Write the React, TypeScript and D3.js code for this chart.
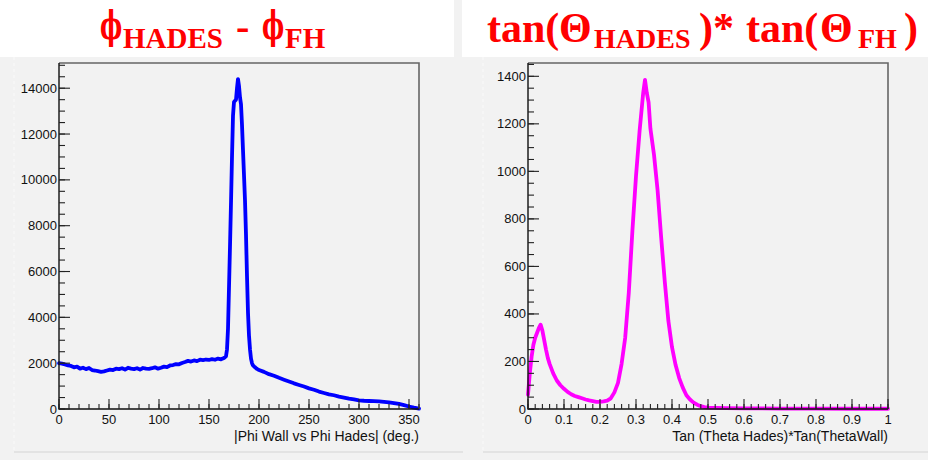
import React from "react";
import * as d3 from "d3";

// ---------- data ----------
const phiDeg = [
  0, 3, 6, 9, 12, 15, 18, 21, 24, 27, 30, 33, 36, 39, 42, 45, 48, 51, 54, 57, 60, 63, 66, 69, 72, 75, 78, 81, 84, 87, 90,
  93, 96, 99, 102, 105, 108, 111, 114, 117, 120, 123, 126, 129, 132, 135, 138, 141, 144, 147, 150, 153, 156, 159, 162,
  165, 167, 168, 169, 170, 171, 172, 173, 174, 175, 176, 177, 178, 179, 180, 181, 182, 183, 184, 185, 186, 187, 188, 189,
  190, 191, 192, 193, 194, 196, 198, 200, 205, 210, 215, 220, 225, 230, 235, 240, 245, 250, 255, 260, 265, 270, 275, 280,
  285, 290, 295, 300, 305, 310, 315, 320, 325, 330, 335, 340, 345, 350, 355, 360,
];
const phiCounts = [
  2000, 1980, 1940, 1900, 1880, 1820, 1850, 1760, 1800, 1740, 1790, 1700, 1680, 1650, 1620, 1640, 1680, 1720, 1700, 1760,
  1740, 1780, 1720, 1800, 1760, 1740, 1780, 1720, 1790, 1760, 1750, 1780, 1820, 1760, 1800, 1850, 1830, 1900, 1920, 1960,
  1950, 2010, 2050, 2100, 2070, 2120, 2090, 2150, 2130, 2160, 2140, 2180, 2150, 2200, 2170, 2230, 2300, 2600, 3500, 5300,
  7100, 9000, 11000, 12800, 13400, 13450, 13500, 14000, 14400, 14100, 13600, 13300, 12400, 11300, 10200, 9100, 7600, 5800,
  4200, 3200, 2600, 2200, 2000, 1900, 1820, 1750, 1700, 1620, 1520, 1450, 1360, 1280, 1200, 1120, 1050, 980, 900, 840, 760,
  700, 640, 600, 540, 500, 450, 420, 380, 360, 350, 340, 330, 310, 290, 260, 220, 170, 110, 60, 20,
];

const tanVal = [
  0, 0.005, 0.01, 0.015, 0.02, 0.025, 0.03, 0.035, 0.04, 0.045, 0.05, 0.055, 0.06, 0.065, 0.07, 0.08, 0.09, 0.1, 0.11, 0.12,
  0.13, 0.14, 0.15, 0.16, 0.17, 0.18, 0.19, 0.2, 0.21, 0.22, 0.23, 0.24, 0.25, 0.26, 0.27, 0.28, 0.29, 0.3, 0.31, 0.32, 0.325,
  0.33, 0.335, 0.34, 0.35, 0.36, 0.37, 0.38, 0.39, 0.4, 0.41, 0.42, 0.43, 0.44, 0.45, 0.46, 0.47, 0.48, 0.49, 0.5, 0.55, 0.6,
  0.7, 0.8, 0.9, 1.0,
];
const tanCounts = [
  60, 150, 220, 270, 300, 320, 340, 355, 330, 290, 250, 215, 190, 170, 150, 120, 100, 85, 72, 62, 55, 50, 45, 40, 36, 33, 30,
  30, 32, 35, 45, 70, 110, 190, 300, 490, 750, 980, 1170, 1330, 1385, 1330, 1290, 1180, 1070, 920, 720, 535, 370, 260, 185,
  130, 90, 58, 40, 27, 18, 12, 8, 6, 4, 3, 2, 2, 1, 1,
];

const phiXTicks = [0, 50, 100, 150, 200, 250, 300, 350];
const phiYTicks = [0, 2000, 4000, 6000, 8000, 10000, 12000, 14000];
const tanXTicks = [0, 0.1, 0.2, 0.3, 0.4, 0.5, 0.6, 0.7, 0.8, 0.9, 1];
const tanXLabels = ["0", "0.1", "0.2", "0.3", "0.4", "0.5", "0.6", "0.7", "0.8", "0.9", "1"];
const tanYTicks = [0, 200, 400, 600, 800, 1000, 1200, 1400];

const phiAxisTitle = "|Phi Wall vs Phi Hades| (deg.)";
const tanAxisTitle = "Tan (Theta Hades)*Tan(ThetaWall)";

const TOP = 63;
const BOTTOM = 409;
const SANS = "'Liberation Sans', Arial, Helvetica, sans-serif";
const SERIF = "'Liberation Serif', 'Times New Roman', serif";
const PHI_FONT = "'DejaVu Serif', 'Liberation Serif', serif";

type PanelProps = {
  left: number;
  right: number;
  xDomain: [number, number];
  yDomain: [number, number];
  xs: number[];
  ys: number[];
  color: string;
  xTicks: number[];
  xLabels: string[];
  xMinorStep: number;
  yTicks: number[];
  yMinorStep: number;
  title: string;
};

function Panel(p: PanelProps) {
  const x = d3.scaleLinear().domain(p.xDomain).range([p.left, p.right]);
  const y = d3.scaleLinear().domain(p.yDomain).range([BOTTOM, TOP]);
  const line = d3
    .line<number>()
    .x((_, i) => x(p.xs[i]))
    .y((d) => y(d));
  const xMinor = d3.range(p.xDomain[0], p.xDomain[1] + 1e-9, p.xMinorStep);
  const yMinor = d3.range(p.yDomain[0], p.yDomain[1], p.yMinorStep);
  return (
    <g>
      <rect x={p.left} y={TOP} width={p.right - p.left} height={BOTTOM - TOP} fill="#f2f2f2" />
      <path d={line(p.ys) || ""} fill="none" stroke={p.color} strokeWidth={3.8} strokeLinejoin="round" strokeLinecap="round" />
      <path d={`M${p.left},${TOP}H${p.right}V${BOTTOM}`} fill="none" stroke="#666" strokeWidth={1.6} />
      <path d={`M${p.left},${TOP}V${BOTTOM}H${p.right}`} fill="none" stroke="#111" strokeWidth={1.4} />
      {yMinor.map((v) => (
        <line key={"ym" + v} x1={p.left} x2={p.left + 6} y1={y(v)} y2={y(v)} stroke="#222" strokeWidth={1.1} />
      ))}
      {p.yTicks.map((v) => (
        <g key={"y" + v}>
          <line x1={p.left} x2={p.left + 11} y1={y(v)} y2={y(v)} stroke="#222" strokeWidth={1.1} />
          <text x={p.left - 2} y={y(v) + 4.5} textAnchor="end" fontFamily={SANS} fontSize={13} fill="#111">
            {String(v)}
          </text>
        </g>
      ))}
      {xMinor.map((v, i) => (
        <line key={"xm" + i} x1={x(v)} x2={x(v)} y1={BOTTOM} y2={BOTTOM - 5} stroke="#222" strokeWidth={1.1} />
      ))}
      {p.xTicks.map((v, i) => (
        <g key={"x" + i}>
          <line x1={x(v)} x2={x(v)} y1={BOTTOM} y2={BOTTOM - 10} stroke="#222" strokeWidth={1.1} />
          <text x={x(v)} y={BOTTOM + 15} textAnchor="middle" fontFamily={SANS} fontSize={13} fill="#111">
            {p.xLabels[i]}
          </text>
        </g>
      ))}
      <text x={p.right} y={441} textAnchor="end" fontFamily={SANS} fontSize={14} fill="#111">
        {p.title}
      </text>
    </g>
  );
}

export default function App() {
  return (
    <svg
      width={928}
      height={460}
      style={{ position: "absolute", left: 0, top: 0, display: "block" }}
      xmlns="http://www.w3.org/2000/svg"
    >
      <rect x={0} y={0} width={928} height={460} fill="#f2f2f2" />
      <rect x={0} y={0} width={454} height={57} fill="#ffffff" />
      <rect x={462} y={0} width={466} height={57} fill="#ffffff" />
      <line x1={14} x2={463} y1={452} y2={452} stroke="#d4d4d4" strokeWidth={1.2} />
      <line x1={483} x2={928} y1={452} y2={452} stroke="#d4d4d4" strokeWidth={1.2} />
      <line x1={483} x2={483} y1={57} y2={452} stroke="#fafafa" strokeWidth={1} strokeDasharray="3 3" />
      <line x1={14} x2={14} y1={57} y2={452} stroke="#fafafa" strokeWidth={1} strokeDasharray="3 3" />

      <Panel
        left={59}
        right={419}
        xDomain={[0, 360]}
        yDomain={[0, 15100]}
        xs={phiDeg}
        ys={phiCounts}
        color="#0000ff"
        xTicks={phiXTicks}
        xLabels={phiXTicks.map(String)}
        xMinorStep={10}
        yTicks={phiYTicks}
        yMinorStep={500}
        title={phiAxisTitle}
      />
      <Panel
        left={528}
        right={888}
        xDomain={[0, 1]}
        yDomain={[0, 1456]}
        xs={tanVal}
        ys={tanCounts}
        color="#ff00ff"
        xTicks={tanXTicks}
        xLabels={tanXLabels}
        xMinorStep={0.02}
        yTicks={tanYTicks}
        yMinorStep={50}
        title={tanAxisTitle}
      />

      {/* titles */}
      <g fill="#ff0000" fontFamily={SERIF} fontWeight="bold">
        <text transform="translate(100,39) scale(0.62,1.05)" fontSize={38} fontFamily={PHI_FONT}>ϕ</text>
        <text x={123} y={48} fontSize={29}>HADES</text>
        <text x={236} y={40} fontSize={40}>-</text>
        <text transform="translate(262,39) scale(0.62,1.05)" fontSize={38} fontFamily={PHI_FONT}>ϕ</text>
        <text x={285} y={48} fontSize={29}>FH</text>

        <text x={487} y={42} fontSize={42}>tan(</text>
        <text x={559} y={42} fontSize={42}>Θ</text>
        <text x={594} y={48} fontSize={28}>HADES</text>
        <text x={699} y={42} fontSize={42}>)*</text>
        <text x={746} y={42} fontSize={42}>tan(</text>
        <text x={820} y={42} fontSize={42}>Θ</text>
        <text x={858} y={48} fontSize={28}>FH</text>
        <text x={904} y={42} fontSize={42}>)</text>
      </g>
    </svg>
  );
}
